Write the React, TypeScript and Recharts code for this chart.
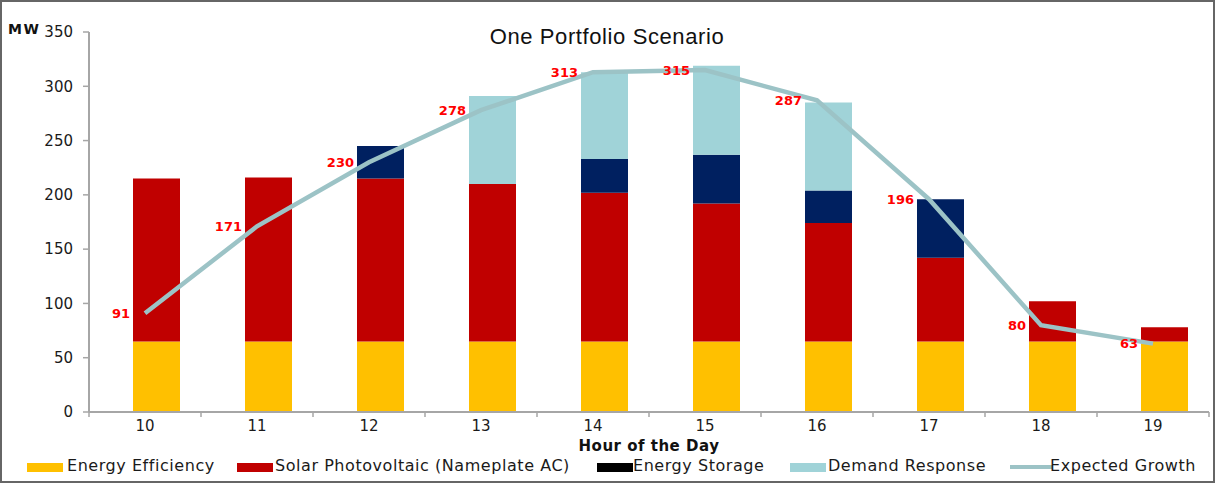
import React from "react";
import {
  ComposedChart, Bar, Line, XAxis, YAxis, LabelList, Label, Rectangle
} from "recharts";

// Hours on the x axis
const hours = ["10", "11", "12", "13", "14", "15", "16", "17", "18", "19"];

// Stacked resources (MW)
const energyEfficiency = [65, 65, 65, 65, 65, 65, 65, 65, 65, 65];
const solarPV = [150, 151, 150, 145, 137, 127, 109, 77, 37, 13];
const energyStorage = [0, 0, 30, 0, 31, 45, 30, 54, 0, 0];
const demandResponse = [0, 0, 0, 81, 80, 82, 81, 0, 0, 0];

// Line series
const expectedGrowth = [91, 171, 230, 278, 313, 315, 287, 196, 80, 63];

const yTicks = [0, 50, 100, 150, 200, 250, 300, 350];

const data = hours.map((hour, i) => ({
  hour,
  ee: energyEfficiency[i],
  pv: solarPV[i],
  storage: energyStorage[i],
  dr: demandResponse[i],
  growth: expectedGrowth[i],
}));

const COLORS = {
  ee: "#ffc000",
  pv: "#c00000",
  storage: "#002060",
  dr: "#a0d3d8",
  growth: "#9cc3c6",
  axis: "#a6a6a6",
};

const FONT = "'DejaVu Sans', Verdana, sans-serif";
const BAND = 112; // category width in px, used for the between-category tick marks

// bars in the original sit a little right of the category centre
const ShiftedBar = (props: any) => <Rectangle {...props} x={props.x + 11} />;

const XTick = (props: any) => {
  const { x, y, payload, index } = props;
  return (
    <g>
      <line x1={x - BAND / 2} x2={x - BAND / 2} y1={y - 8} y2={y - 3} stroke={COLORS.axis} strokeWidth={1.5} />
      {index === hours.length - 1 && (
        <line x1={x + BAND / 2} x2={x + BAND / 2} y1={y - 8} y2={y - 3} stroke={COLORS.axis} strokeWidth={1.5} />
      )}
      <text x={x} y={y} dy="0.71em" textAnchor="middle" fontSize={15} fontFamily={FONT} fill="#1a1a1a">
        {payload.value}
      </text>
    </g>
  );
};

const legendItems = [
  { label: "Energy Efficiency", color: COLORS.ee, left: 25, textLeft: 65, type: "box" },
  { label: "Solar Photovoltaic (Nameplate AC)", color: COLORS.pv, left: 235, textLeft: 273, type: "box" },
  { label: "Energy Storage", color: "#000000", left: 595, textLeft: 631, type: "box" },
  { label: "Demand Response", color: COLORS.dr, left: 788, textLeft: 826, type: "box" },
  { label: "Expected Growth", color: COLORS.growth, left: 1008, textLeft: 1048, type: "line" },
];

export default function App() {
  return (
    <div
      style={{
        position: "absolute",
        left: 0,
        top: 0,
        width: 1215,
        height: 483,
        boxSizing: "border-box",
        border: "2px solid #666",
        background: "#fff",
        fontFamily: FONT,
      }}
    >
      <div
        style={{
          position: "absolute",
          left: 605,
          top: 24,
          transform: "translateX(-50%)",
          fontFamily: "'Liberation Sans', Arial, sans-serif",
          fontSize: 22,
          letterSpacing: 0.6,
          lineHeight: 1,
          color: "#111",
          whiteSpace: "nowrap",
        }}
      >
        One Portfolio Scenario
      </div>
      <div
        style={{
          position: "absolute",
          left: 6,
          top: 20,
          fontSize: 14,
          fontWeight: 700,
          lineHeight: 1,
          letterSpacing: 1.5,
          color: "#111",
        }}
      >
        MW
      </div>

      <ComposedChart
        width={1211}
        height={479}
        data={data}
        margin={{ top: 30, right: 4, left: 0, bottom: 29 }}
        barSize={47}
      >
        <XAxis
          dataKey="hour"
          height={40}
          interval={0}
          tickLine={false}
          tickSize={0}
          tickMargin={8}
          axisLine={{ stroke: COLORS.axis, strokeWidth: 2 }}
          tick={<XTick />}
        >
          <Label
            value="Hour of the Day"
            position="insideBottom"
            offset={1}
            style={{ fontSize: 15, fontWeight: 700, letterSpacing: 0.5, fontFamily: FONT, fill: "#111" }}
          />
        </XAxis>
        <YAxis
          width={87}
          domain={[0, 350]}
          ticks={yTicks}
          interval={0}
          tickSize={6}
          tickMargin={10}
          axisLine={{ stroke: COLORS.axis, strokeWidth: 2 }}
          tickLine={{ stroke: COLORS.axis, strokeWidth: 1.5 }}
          tick={{ fontSize: 15, fontFamily: FONT, fill: "#1a1a1a" }}
        />
        <Bar dataKey="ee" stackId="a" fill={COLORS.ee} shape={ShiftedBar} isAnimationActive={false} />
        <Bar dataKey="pv" stackId="a" fill={COLORS.pv} shape={ShiftedBar} isAnimationActive={false} />
        <Bar dataKey="storage" stackId="a" fill={COLORS.storage} shape={ShiftedBar} isAnimationActive={false} />
        <Bar dataKey="dr" stackId="a" fill={COLORS.dr} shape={ShiftedBar} isAnimationActive={false} />
        <Line
          type="linear"
          dataKey="growth"
          stroke={COLORS.growth}
          strokeWidth={4.5}
          dot={false}
          activeDot={false}
          isAnimationActive={false}
        >
          <LabelList
            dataKey="growth"
            position="left"
            offset={15}
            style={{ fontSize: 13, fontWeight: 700, fontFamily: FONT, fill: "#ff0000" }}
          />
        </Line>
      </ComposedChart>

      {legendItems.map((item) => (
        <React.Fragment key={item.label}>
          {item.type === "box" ? (
            <div
              style={{
                position: "absolute",
                left: item.left,
                top: 461,
                width: 36,
                height: 9,
                background: item.color,
              }}
            />
          ) : (
            <div
              style={{
                position: "absolute",
                left: item.left,
                top: 463,
                width: 42,
                height: 4,
                background: item.color,
              }}
            />
          )}
          <div
            style={{
              position: "absolute",
              left: item.textLeft,
              top: 456,
              fontSize: 16,
              letterSpacing: 0.55,
              lineHeight: 1,
              color: "#1a1a1a",
              whiteSpace: "nowrap",
            }}
          >
            {item.label}
          </div>
        </React.Fragment>
      ))}
    </div>
  );
}
